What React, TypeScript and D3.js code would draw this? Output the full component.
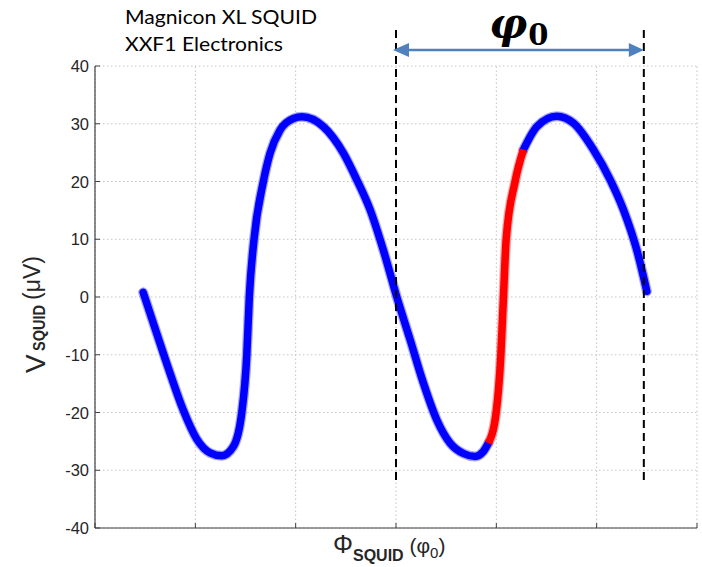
import React from "react";
import * as d3 from "d3";

// ---- data ----
const xTicks = [0, 1, 2, 3, 4, 5, 6];
const yTicks = [-40, -30, -20, -10, 0, 10, 20, 30, 40];

const blueAX = [0.48, 0.615, 0.748, 0.88, 1.014, 1.147, 1.263, 1.379, 1.463, 1.513, 1.538, 1.585, 1.678, 1.745, 1.844, 1.977, 2.064, 2.276, 2.476, 2.609, 2.742, 2.874, 3.008, 3.141, 3.273, 3.407, 3.539, 3.672, 3.789, 3.868, 3.921];
const blueAV = [0.8, -6.3, -13.2, -19.6, -24.6, -27.0, -27.5, -25.9, -20, -10, 0, 10, 20, 24.9, 28.9, 30.9, 31.2, 29.5, 24.9, 20.3, 15.1, 8.1, 0, -7.4, -14.9, -21.3, -25.3, -27.1, -27.6, -26.8, -25.3];

const redX = [3.921, 3.998, 4.045, 4.071, 4.098, 4.187, 4.27];
const redV = [-25.3, -20, -10, 0, 10, 20, 25.5];

const blueBX = [4.27, 4.404, 4.603, 4.769, 4.968, 5.135, 5.267, 5.401, 5.5];
const blueBV = [25.5, 29.5, 31.3, 30.1, 25.5, 20.3, 15.1, 8.1, 1.0];

const periodMarks = [3.0, 5.47];

const titleLines = ["Magnicon XL SQUID", "XXF1 Electronics"];

export default function App() {
  const W = 702;
  const H = 567;
  const x = d3.scaleLinear().domain([0, 6]).range([95, 697]);
  const y = d3.scaleLinear().domain([-40, 40]).range([528, 66]);

  const line = d3
    .line<[number, number]>()
    .x((d) => x(d[0]))
    .y((d) => y(d[1]))
    .curve(d3.curveMonotoneX);

  const zip = (a: number[], b: number[]) => a.map((v, i) => [v, b[i]] as [number, number]);
  const blueA = line(zip(blueAX, blueAV)) || "";
  const red = line(zip(redX, redV)) || "";
  const blueB = line(zip(blueBX, blueBV)) || "";

  const axisColor = "#404040";
  const textColor = "#262626";
  const gridColor = "#c4c4c4";
  const arrowY = 50;
  const x0 = x(periodMarks[0]);
  const x1 = x(periodMarks[1]);

  return (
    <svg
      width={W}
      height={H}
      style={{ position: "absolute", left: 0, top: 0, background: "#fff" }}
      xmlns="http://www.w3.org/2000/svg"
    >
      <rect width={W} height={H} fill="#fff" />
      {/* grid */}
      {yTicks.map((t) => (
        <line key={"gy" + t} x1={x(0)} x2={x(6)} y1={y(t)} y2={y(t)} stroke={gridColor} strokeDasharray="1.5 2.5" />
      ))}
      {xTicks.map((t) => (
        <line key={"gx" + t} x1={x(t)} x2={x(t)} y1={y(-40)} y2={y(40)} stroke={gridColor} strokeDasharray="1.5 2.5" />
      ))}
      {/* axes */}
      <line x1={x(0)} x2={x(0)} y1={y(-40)} y2={y(40)} stroke={axisColor} strokeWidth={1.2} />
      <line x1={x(0)} x2={x(6)} y1={y(-40)} y2={y(-40)} stroke={axisColor} strokeWidth={1.2} />
      {xTicks.map((t) => (
        <line key={"tx" + t} x1={x(t)} x2={x(t)} y1={y(-40)} y2={y(-40) - 5} stroke={axisColor} />
      ))}
      {yTicks.map((t) => (
        <line key={"ty" + t} x1={x(0)} x2={x(0) + 5} y1={y(t)} y2={y(t)} stroke={axisColor} />
      ))}
      {yTicks.map((t) => (
        <text
          key={"yl" + t}
          x={89}
          y={y(t) + 6}
          textAnchor="end"
          fontFamily="'Liberation Sans', Arial, sans-serif"
          fontSize={16.5}
          fill={textColor}
        >
          {t}
        </text>
      ))}

      {/* curve: soft halo + core */}
      <g fill="none" strokeLinecap="round" strokeLinejoin="round">
        <path d={blueA} stroke="#0000ff" strokeOpacity={0.35} strokeWidth={10} />
        <path d={blueB} stroke="#0000ff" strokeOpacity={0.35} strokeWidth={10} />
        <path d={blueA} stroke="#0000ff" strokeWidth={7.5} />
        <path d={blueB} stroke="#0000ff" strokeWidth={7.5} />
        <path d={red} stroke="#ff0000" strokeOpacity={0.35} strokeWidth={10} strokeLinecap="butt" />
        <path d={red} stroke="#ff0000" strokeWidth={7.5} strokeLinecap="butt" />
      </g>

      {/* period markers */}
      {periodMarks.map((p) => (
        <line key={"pm" + p} x1={x(p)} x2={x(p)} y1={30} y2={481} stroke="#000" strokeWidth={2} strokeDasharray="8 5" />
      ))}
      <line x1={x0 + 12} x2={x1 - 12} y1={arrowY} y2={arrowY} stroke="#4F81BD" strokeWidth={2.5} />
      <path d={`M${x0 - 3},${arrowY} L${x0 + 13},${arrowY - 7} L${x0 + 13},${arrowY + 7} Z`} fill="#4F81BD" />
      <path d={`M${x1},${arrowY} L${x1 - 15},${arrowY - 7} L${x1 - 15},${arrowY + 7} Z`} fill="#4F81BD" />
      <text
        x={(x0 + x1) / 2 - 1}
        y={38}
        textAnchor="middle"
        fontFamily="'DejaVu Serif', serif"
        fontWeight="bold"
        fontStyle="italic"
        fontSize={42}
        fill="#000"
      >
        φ<tspan fontSize={29} fontStyle="normal" dy={7} dx={1}>0</tspan>
      </text>

      {/* title */}
      {titleLines.map((s, i) => (
        <text
          key={s}
          x={125}
          y={24 + i * 27}
          fontFamily="Lato, 'Open Sans', sans-serif"
          fontSize={19}
          fill="#000"
          textLength={i === 0 ? 192 : 158}
          lengthAdjust="spacingAndGlyphs"
        >
          {s}
        </text>
      ))}

      {/* x label */}
      <text x={333} y={553} fontFamily="'Liberation Sans', Arial, sans-serif" fill={textColor} fontSize={25}>
        Φ
        <tspan dy={8} fontWeight="bold" fontSize={16}>SQUID</tspan>
        <tspan dy={-8} fontSize={21}> (φ</tspan>
        <tspan dy={5} fontSize={15}>0</tspan>
        <tspan dy={-5} fontSize={21}>)</tspan>
      </text>

      {/* y label */}
      <g transform="translate(45,0) rotate(-90)" fontFamily="'Liberation Sans', Arial, sans-serif" fill={textColor}>
        <text x={-373} y={0} fontSize={28}>V</text>
        <text x={-351} y={0} fontSize={17} fontWeight="bold" textLength={46} lengthAdjust="spacingAndGlyphs">SQUID</text>
        <text x={-300} y={-5} fontSize={23}>(μV)</text>
      </g>
    </svg>
  );
}
